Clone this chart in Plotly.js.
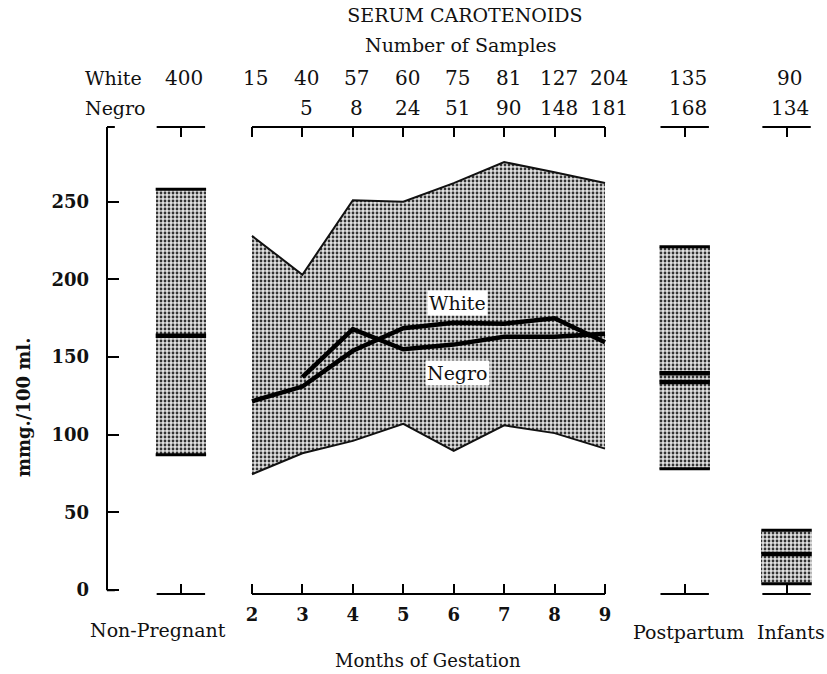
<!DOCTYPE html>
<html>
<head>
<meta charset="utf-8">
<script src="https://cdn.plot.ly/plotly-3.0.1.min.js"></script>
<style>html,body{margin:0;padding:0;background:#fff;}#chart{width:827px;height:674px;}</style>
</head>
<body>
<div id="chart"></div>
<script>
// ---- data ----
const months = [2, 3, 4, 5, 6, 7, 8, 9];
const monthLabels = ['2', '3', '4', '5', '6', '7', '8', '9'];
const rangeUpper = [228, 203, 251, 250, 262, 275.5, 269, 262];
const rangeLower = [74.5, 88, 96, 107, 89.5, 106, 101, 91];
const whiteMean = [121.5, 131, 154, 168.5, 172, 171.5, 175, 159.5];
const negroMonths = [3, 4, 5, 6, 7, 8, 9];
const negroMean = [137, 168, 155, 158, 163, 163, 165];
const whiteCounts = [15, 40, 57, 60, 75, 81, 127, 204];
const negroCounts = [null, 5, 8, 24, 51, 90, 148, 181];

const groups = ['Non-Pregnant', 'Postpartum', 'Infants'];
const groupLow = [87, 78, 4];
const groupHigh = [258, 221, 38.5];
const groupMeanWhite = [163.7, 139.6, 23.2];
const groupMeanNegro = [null, 134, null];
const groupWhiteCounts = [400, 135, 90];
const groupNegroCounts = [null, 168, 134];

const yTicks = [0, 50, 100, 150, 200, 250];

// ---- layout constants (positions / styles) ----
const groupPos = [0.59, 10.58, 12.6];
const boxHalf = 0.5;
const bracketHalf = 0.48;
const FONT = 'DejaVu Serif';
const pattern = {shape: '.', fgcolor: '#333', bgcolor: '#e0e0e0', size: 4, solidity: 0.38};

const traces = [];
// gestation envelope
traces.push({x: months, y: rangeLower, type: 'scatter', mode: 'lines',
  line: {color: '#111', width: 2}, showlegend: false, hoverinfo: 'skip'});
traces.push({x: months, y: rangeUpper, type: 'scatter', mode: 'lines', fill: 'tonexty',
  fillcolor: '#d0d0d0', fillpattern: pattern,
  line: {color: '#111', width: 2}, showlegend: false, hoverinfo: 'skip'});
// mean lines
traces.push({x: months, y: whiteMean, type: 'scatter', mode: 'lines', name: 'White',
  line: {color: '#000', width: 4.5}, showlegend: false});
traces.push({x: negroMonths, y: negroMean, type: 'scatter', mode: 'lines', name: 'Negro',
  line: {color: '#000', width: 4.5}, showlegend: false});

// group boxes
traces.push({type: 'bar', x: groupPos, y: groupHigh.map((h, i) => h - groupLow[i]), base: groupLow,
  width: groupPos.map(() => 2 * boxHalf), marker: {color: '#d0d0d0', pattern: pattern, line: {width: 0}},
  showlegend: false, hoverinfo: 'skip'});
function hline(pos, v, w) {
  return {type: 'scatter', mode: 'lines', x: [pos - boxHalf, pos + boxHalf], y: [v, v],
    line: {color: '#000', width: w}, showlegend: false, hoverinfo: 'skip'};
}
groups.forEach((g, i) => {
  traces.push(hline(groupPos[i], groupLow[i], 3));
  traces.push(hline(groupPos[i], groupHigh[i], 3));
  if (groupMeanWhite[i] != null) traces.push(hline(groupPos[i], groupMeanWhite[i], 4.5));
  if (groupMeanNegro[i] != null) traces.push(hline(groupPos[i], groupMeanNegro[i], 4.5));
});
// invisible trace to anchor the top axis
traces.push({type: 'scatter', x: months, y: months.map(() => null), xaxis: 'x2', yaxis: 'y',
  mode: 'markers', showlegend: false, hoverinfo: 'skip'});

// axis brackets
const shapes = [];
function bracket(x0, x1, y) {
  shapes.push({type: 'line', xref: 'x', yref: 'paper', x0: x0, x1: x1, y0: y, y1: y,
    line: {color: '#000', width: 2}});
}
bracket(months[0], months[months.length - 1], 0);
bracket(months[0], months[months.length - 1], 1);
groupPos.forEach(p => { bracket(p - bracketHalf, p + bracketHalf, 0); bracket(p - bracketHalf, p + bracketHalf, 1); });
// y axis line with feet
shapes.push({type: 'line', xref: 'paper', yref: 'paper', x0: 0, x1: 0, y0: 0.008, y1: 1, line: {color: '#000', width: 2}});
shapes.push({type: 'line', xref: 'paper', yref: 'paper', x0: 0, x1: 0.011, y0: 1, y1: 1, line: {color: '#000', width: 2}});
shapes.push({type: 'line', xref: 'paper', yref: 'paper', x0: 0, x1: 0.011, y0: 0.008, y1: 0.008, line: {color: '#000', width: 2}});

const tickPos = groupPos.slice(0, 1).concat(months, groupPos.slice(1));
const tickText = [''].concat(monthLabels, ['', '']);

const ann = [];
const txt = (o, size) => Object.assign({showarrow: false, xanchor: 'center', yanchor: 'middle',
  font: {family: FONT, size: size || 19, color: '#111'}}, o);
// sample counts
const rowW = 1.105, rowN = 1.041;
months.forEach((m, i) => {
  ann.push(txt({x: m, y: rowW, xref: 'x', yref: 'paper', text: String(whiteCounts[i]), xshift: 4}, 20));
  if (negroCounts[i] != null) ann.push(txt({x: m, y: rowN, xref: 'x', yref: 'paper', text: String(negroCounts[i]), xshift: 4}, 20));
});
groups.forEach((g, i) => {
  ann.push(txt({x: groupPos[i], y: rowW, xref: 'x', yref: 'paper', text: String(groupWhiteCounts[i]), xshift: 3}, 20));
  if (groupNegroCounts[i] != null) ann.push(txt({x: groupPos[i], y: rowN, xref: 'x', yref: 'paper', text: String(groupNegroCounts[i]), xshift: 3}, 20));
});
ann.push(txt({x: -0.034, y: rowW, xref: 'paper', yref: 'paper', xanchor: 'left', text: 'White'}));
ann.push(txt({x: -0.034, y: rowN, xref: 'paper', yref: 'paper', xanchor: 'left', text: 'Negro'}));
ann.push(txt({x: 0.496, y: 1.176, xref: 'paper', yref: 'paper', text: 'Number of Samples'}));
// in-plot labels
ann.push(txt({x: 6.08, y: 185, xref: 'x', yref: 'y', text: 'White', bgcolor: '#fff', borderpad: 1}));
ann.push(txt({x: 6.08, y: 140, xref: 'x', yref: 'y', text: 'Negro', bgcolor: '#fff', borderpad: 1}));
// group labels
ann.push(txt({x: 0.13, y: -0.077, xref: 'x', yref: 'paper', text: groups[0]}));
ann.push(txt({x: 10.65, y: -0.081, xref: 'x', yref: 'paper', text: groups[1]}));
ann.push(txt({x: 12.68, y: -0.081, xref: 'x', yref: 'paper', text: groups[2]}));
ann.push(txt({x: 5.49, y: -0.142, xref: 'x', yref: 'paper', text: 'Months of Gestation'}, 18));
// y title
ann.push(txt({x: -0.118, y: 0.40, xref: 'paper', yref: 'paper', text: 'mmg./100 ml.', textangle: -90,
  font: {family: FONT, size: 18, color: '#111', weight: 'bold'}}));

const layout = {
  width: 827, height: 674,
  margin: {l: 107, r: 7, t: 127, b: 80},
  paper_bgcolor: '#fff', plot_bgcolor: '#fff',
  title: {text: 'SERUM CAROTENOIDS', x: 0.502, xref: 'paper', xanchor: 'center', y: 1 - 15 / 674, yanchor: 'middle',
    font: {family: FONT, size: 19, color: '#111'}},
  xaxis: {range: [-0.875, 13.263], tickmode: 'array', tickvals: tickPos, ticktext: tickText,
    ticks: 'inside', ticklen: 10, tickwidth: 2, tickcolor: '#000', showline: false, showgrid: false, zeroline: false,
    tickfont: {family: FONT, size: 18, color: '#111', weight: 'bold'}, ticklabelstandoff: 8},
  xaxis2: {overlaying: 'x', matches: 'x', side: 'top', anchor: 'y', tickmode: 'array', tickvals: tickPos,
    showticklabels: false, ticks: 'inside', ticklen: 10, tickwidth: 2, tickcolor: '#000',
    showline: false, showgrid: false, zeroline: false},
  yaxis: {range: [-2.575, 298.1], tickmode: 'array', tickvals: yTicks, ticks: 'inside', ticklen: 12, tickwidth: 2,
    tickcolor: '#000', showline: false, showgrid: false, zeroline: false,
    tickfont: {family: FONT, size: 18, color: '#111', weight: 'bold'}, ticklabelstandoff: 17},
  bargap: 0,
  shapes: shapes,
  annotations: ann,
  showlegend: false
};
Plotly.newPlot('chart', traces, layout, {displayModeBar: false, staticPlot: true});
</script>
</body>
</html>
